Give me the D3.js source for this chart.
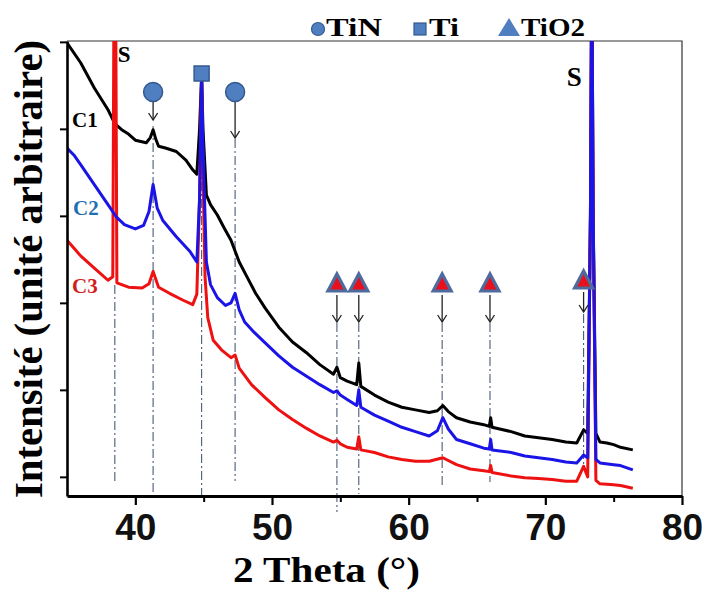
<!DOCTYPE html>
<html>
<head>
<meta charset="utf-8">
<script src="https://cdn.jsdelivr.net/npm/d3@7"></script>
<style>
  body { margin: 0; background: #fff; }
  svg { display: block; }
</style>
</head>
<body>
<div id="chart"></div>
<script>
// ---- data (2 theta in degrees, intensity in arbitrary units)
var c1Theta = [35.0,36.0,37.0,38.0,38.5,39.0,39.5,40.0,40.8,41.1,41.3,41.5,41.7,42.2,43.0,43.7,44.2,44.5,44.7,44.85,44.95,45.2,45.5,46.0,46.5,47.0,47.6,48.2,48.8,49.5,50.5,51.5,52.5,53.5,54.5,54.75,55.0,55.5,56.2,56.35,56.5,57.5,58.5,59.5,60.5,61.5,62.1,62.5,62.9,63.5,64.5,65.5,65.9,66.0,66.1,67.5,68.5,69.5,70.5,71.5,72.3,72.8,73.1,73.3,73.4,73.5,73.7,74.0,74.5,75.0,75.5,76.4];
var c1Int = [599,576,547,522,506,499,494,487,484,490,499,488,480,478,474,464,453,448,500,562,500,424,413,401,386,372,347,329,311,294,272,255,243,229,218,226,214,210,206,231,204,194,186,180,177,174,176,182,175,168,163,160,158,168,157,152,147,145,143,140,139,154,150,400,700,400,150,140,139,137,134,131];

var c2Theta = [35.0,35.5,36.0,37.0,38.0,38.6,39.2,40.0,40.6,41.0,41.3,41.6,42.0,43.0,44.0,44.5,44.7,44.85,44.95,45.2,45.5,46.0,46.6,47.0,47.3,47.6,48.0,48.7,49.5,50.5,51.5,52.5,53.5,54.5,54.75,55.0,55.5,56.2,56.35,56.5,57.5,58.5,59.5,60.5,61.5,62.1,62.5,62.9,63.5,64.5,65.5,65.9,66.0,66.1,67.5,68.5,69.5,70.5,71.5,72.3,72.8,73.1,73.3,73.4,73.5,73.7,74.0,75.0,75.5,76.4];
var c2Int = [478,470,459,436,413,399,390,385,389,405,436,409,395,376,359,347,420,562,480,347,321,306,297,300,311,292,278,266,254,239,226,216,206,197,199,194,189,182,200,180,171,164,157,152,147,153,168,155,143,138,133,132,143,131,128,124,122,120,117,116,125,122,400,700,400,120,116,114,113,108];

var c3Theta = [35.0,35.5,36.0,37.0,38.0,38.35,38.45,38.55,38.65,39.5,40.5,41.0,41.3,41.7,42.5,43.5,44.2,44.5,44.7,44.85,44.95,45.1,45.3,45.7,46.3,47.0,47.3,47.6,48.5,49.5,50.5,51.5,52.5,53.5,54.5,54.75,55.0,55.5,56.2,56.35,56.5,57.5,58.5,59.5,60.5,61.5,62.5,63.5,64.5,65.5,65.9,66.0,66.1,67.5,68.5,69.5,70.5,71.5,72.3,72.8,73.1,73.3,73.4,73.5,73.7,74.0,75.0,75.5,76.4];
var c3Int = [372,363,354,340,326,330,700,700,323,318,317,322,336,318,311,303,298,310,420,562,450,330,283,257,246,237,240,225,206,191,177,166,156,147,140,142,138,134,132,146,131,128,123,120,118,118,122,114,109,107,106,113,105,101,99,98,97,95,95,112,100,400,700,400,96,92,91,90,87];

var seriesNames = ["C1", "C2", "C3"];

// peak positions of the phases (2 theta)
var tinPeaks = [41.3, 47.3];
var tiPeaks = [44.85];
var tio2Peaks = [54.75, 56.35, 62.45, 65.95, 72.8];
var substratePeaks = [38.5, 73.4];

var xTicks = [40, 50, 60, 70, 80];
var xMinorTicks = [45, 55, 65, 75];
var yTicks = [100, 200, 300, 400, 500, 600];

var legendLabels = ["TiN", "Ti", "TiO2"];

// ---- layout (note: "top" is reserved on window, so use plot* names)
var width = 706, height = 592;
var plotL = 67, plotR = 682, plotT = 41, plotB = 496;
var serif = "'Liberation Serif', 'Times New Roman', serif";
var sans = "'Liberation Sans', Arial, sans-serif";
var markFill = "#4f7fc0", markStroke = "#34598f";
var guideColor = "#4a5a78";

var svg = d3.select("#chart").append("svg")
	.attr("width", width)
	.attr("height", height);

var x = d3.scaleLinear().domain([35, 80]).range([plotL, plotR]);
var y = d3.scaleLinear().domain([78, 601]).range([plotB, plotT]);

svg.append("defs").append("clipPath").attr("id", "plotclip")
	.append("rect")
	.attr("x", plotL).attr("y", plotT)
	.attr("width", plotR - plotL).attr("height", plotB - plotT);

// frame (thin top and right border)
svg.append("path")
	.attr("d", "M" + plotL + "," + plotT + "H" + plotR + "V" + plotB)
	.attr("fill", "none")
	.attr("stroke", "#333")
	.attr("stroke-width", 1.2);

// dash-dot guide lines under the curves
function guide(t, y0, y1){
	svg.append("line")
		.attr("x1", x(t)).attr("x2", x(t))
		.attr("y1", y0).attr("y2", y1)
		.attr("stroke", guideColor)
		.attr("stroke-width", 1.1)
		.attr("stroke-dasharray", "9,3,2,3");
}
guide(substratePeaks[0], 285, 484);
guide(tinPeaks[0], 126, 492);
guide(tiPeaks[0], 80, 497);
guide(tinPeaks[1], 139, 481);
tio2Peaks.forEach(function(t, i){
	var y1 = [512, 494, 486, 482, 470][i];
	guide(t, i == 4 ? 314 : 323, y1);
});

// curves
var line = d3.line()
	.x(function(d){ return x(d[0]); })
	.y(function(d){ return y(d[1]); });

function pairs(th, v){
	return th.map(function(t, i){ return [t, v[i]]; });
}

var curves = [
	{name: "C1", data: pairs(c1Theta, c1Int), color: "#000000"},
	{name: "C3", data: pairs(c3Theta, c3Int), color: "#ee1111"},
	{name: "C2", data: pairs(c2Theta, c2Int), color: "#1a14e6"}
];

svg.append("g").attr("clip-path", "url(#plotclip)")
	.selectAll("path")
	.data(curves)
	.enter()
	.append("path")
	.attr("d", function(d){ return line(d.data); })
	.attr("fill", "none")
	.attr("stroke", function(d){ return d.color; })
	.attr("stroke-width", 3)
	.attr("stroke-linejoin", "round");

// axes
var yAxis = d3.axisLeft(y).tickValues(yTicks).tickFormat("").tickSizeInner(7).tickSizeOuter(0);
var gy = svg.append("g").attr("transform", "translate(" + plotL + ",0)").call(yAxis);
gy.select(".domain").attr("stroke-width", 2.6);
gy.selectAll(".tick line").attr("stroke-width", 2);

var xAxis = d3.axisBottom(x).tickValues(xTicks).tickSizeInner(9).tickSizeOuter(0).tickPadding(8);
var gx = svg.append("g").attr("transform", "translate(0," + plotB + ")").call(xAxis);
gx.select(".domain").attr("stroke-width", 2.8);
gx.selectAll(".tick line").attr("stroke-width", 2.2);
gx.selectAll(".tick text")
	.attr("font-family", sans)
	.attr("font-weight", "bold")
	.attr("font-size", 37)
	.attr("fill", "#111")
	.attr("dy", "0.72em");

var gxm = svg.append("g").attr("transform", "translate(0," + plotB + ")")
	.call(d3.axisBottom(x).tickValues(xMinorTicks).tickFormat("").tickSizeInner(6).tickSizeOuter(0));
gxm.select(".domain").remove();
gxm.selectAll(".tick line").attr("stroke-width", 2);

// axis titles
svg.append("text")
	.attr("x", 233).attr("y", 582)
	.attr("font-family", serif).attr("font-weight", "bold").attr("font-size", 35)
	.attr("textLength", 187).attr("lengthAdjust", "spacingAndGlyphs")
	.text("2 Theta (°)");

svg.append("text")
	.attr("transform", "translate(42,498) rotate(-90)")
	.attr("font-family", serif).attr("font-weight", "bold").attr("font-size", 40)
	.attr("textLength", 458).attr("lengthAdjust", "spacingAndGlyphs")
	.text("Intensité (unité arbitraire)");

// curve labels
var labelPos = [[72, 127, "#000"], [73, 215, "#1f6fb4"], [72, 293, "#d41c1c"]];
seriesNames.forEach(function(n, i){
	svg.append("text")
		.attr("x", labelPos[i][0]).attr("y", labelPos[i][1])
		.attr("font-family", serif).attr("font-weight", "bold").attr("font-size", 21)
		.attr("fill", labelPos[i][2])
		.text(n);
});

// substrate labels
svg.append("text").attr("x", x(substratePeaks[0]) + 3).attr("y", 62)
	.attr("font-family", serif).attr("font-weight", "bold").attr("font-size", 23)
	.text("S");
svg.append("text").attr("x", x(substratePeaks[1]) - 25).attr("y", 86)
	.attr("font-family", serif).attr("font-weight", "bold").attr("font-size", 27)
	.text("S");

// arrows
function arrow(t, y0, y1){
	var xx = x(t);
	svg.append("line")
		.attr("x1", xx).attr("x2", xx).attr("y1", y0).attr("y2", y1)
		.attr("stroke", "#222").attr("stroke-width", 1.3);
	svg.append("path")
		.attr("d", "M" + (xx - 4.5) + "," + (y1 - 7) + "L" + xx + "," + y1 + "L" + (xx + 4.5) + "," + (y1 - 7))
		.attr("fill", "none").attr("stroke", "#222").attr("stroke-width", 1.3);
}

// TiN circles
tinPeaks.forEach(function(t, i){
	arrow(t, 101, i == 0 ? 120 : 138);
	svg.append("circle")
		.attr("cx", x(t)).attr("cy", 92).attr("r", 9.5)
		.attr("fill", markFill).attr("stroke", markStroke).attr("stroke-width", 1.5);
});

// Ti square
tiPeaks.forEach(function(t){
	svg.append("rect")
		.attr("x", x(t) - 7.5).attr("y", 66).attr("width", 15).attr("height", 15)
		.attr("fill", markFill).attr("stroke", markStroke).attr("stroke-width", 1.5);
});

// TiO2 triangles
tio2Peaks.forEach(function(t, i){
	var cy = i == 4 ? 280 : 283;
	arrow(t, cy + 12, cy + (i == 4 ? 32 : 39));
	var xx = x(t);
	svg.append("path")
		.attr("d", "M" + (xx - 9) + "," + (cy + 8) + "L" + (xx + 9) + "," + (cy + 8) + "L" + xx + "," + (cy - 9) + "Z")
		.attr("fill", "#e8101c").attr("stroke", "#4f6a9c").attr("stroke-width", 3.2)
		.attr("stroke-linejoin", "miter");
});

// legend at the top
var lg = svg.append("g");
lg.append("circle").attr("cx", 318).attr("cy", 29).attr("r", 6.5)
	.attr("fill", markFill).attr("stroke", markStroke).attr("stroke-width", 1.2);
lg.append("rect").attr("x", 414).attr("y", 23).attr("width", 12).attr("height", 12)
	.attr("fill", markFill).attr("stroke", markStroke).attr("stroke-width", 1.2);
lg.append("path").attr("d", "M498,36L520,36L509,18Z")
	.attr("fill", markFill);
var legendX = [[326, 56], [429, 30], [521, 64]];
legendLabels.forEach(function(l, i){
	lg.append("text")
		.attr("x", legendX[i][0]).attr("y", 36)
		.attr("font-family", serif).attr("font-weight", "bold").attr("font-size", 26)
		.attr("textLength", legendX[i][1]).attr("lengthAdjust", "spacingAndGlyphs")
		.text(l);
});
</script>
</body>
</html>
